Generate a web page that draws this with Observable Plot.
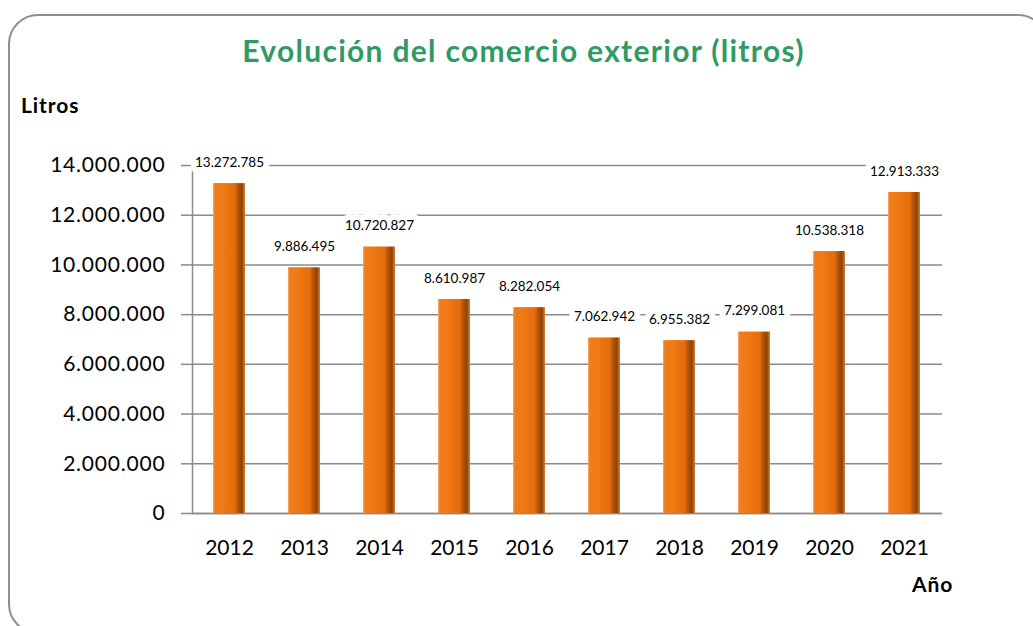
<!DOCTYPE html>
<html>
<head>
<meta charset="utf-8">
<script src="https://cdn.jsdelivr.net/npm/d3@7"></script>
<script src="https://cdn.jsdelivr.net/npm/@observablehq/plot@0.6"></script>
<style>
  html, body { margin: 0; padding: 0; background: #fff; }
  #wrap { position: relative; width: 1033px; height: 626px; overflow: hidden; font-family: Lato, "Open Sans", sans-serif; }
  #border { position: absolute; left: 8px; top: 14px; width: 1040px; height: 620px; border: 2px solid #8f8f8f; border-radius: 30px; box-sizing: border-box; }
  #title { position: absolute; left: 0; width: 1033px; top: 32px; text-align: center; font-size: 30px; line-height: 36px; font-weight: 700; color: #2f9a63; letter-spacing: 1.3px; padding-left: 14px; box-sizing: border-box; }
  #ylab { position: absolute; left: 21px; top: 92px; font-size: 21px; line-height: 25px; font-weight: 700; color: #000; letter-spacing: 0.9px; }
  #xlab { position: absolute; left: 912px; top: 571px; font-size: 21px; line-height: 25px; font-weight: 700; color: #000; letter-spacing: 0.9px; }
  #chart { position: absolute; left: 0; top: 0; }
  #chart svg g[aria-label="y-axis tick label"] text { letter-spacing: 0.8px; }
</style>
</head>
<body>
<div id="wrap">
  <div id="border"></div>
  <div id="chart"></div>
  <div id="title">Evolución del comercio exterior (litros)</div>
  <div id="ylab">Litros</div>
  <div id="xlab">Año</div>
</div>
<script>
const years = ["2012","2013","2014","2015","2016","2017","2018","2019","2020","2021"];
const litros = [13272785, 9886495, 10720827, 8610987, 8282054, 7062942, 6955382, 7299081, 10538318, 12913333];
const yTicks = [0, 2000000, 4000000, 6000000, 8000000, 10000000, 12000000, 14000000];

const data = years.map((y, i) => ({year: y, value: litros[i]}));
const es = d3.formatLocale({decimal: ",", thousands: ".", grouping: [3], currency: ["", ""]});
const fmt = es.format(",");

const gridColor = "#8a8a8a";

const plot = Plot.plot({
  width: 1033,
  height: 626,
  marginTop: 165,
  marginBottom: 113,
  marginLeft: 192,
  marginRight: 91,
  style: {fontFamily: "Lato, 'Open Sans', sans-serif", fontSize: "21px", color: "#000", background: "transparent"},
  x: {type: "band", domain: years, paddingInner: 0.57, paddingOuter: 0.285, label: null},
  y: {domain: [0, 14000000], label: null},
  marks: [
    Plot.gridY(yTicks, {stroke: gridColor, strokeOpacity: 1, strokeWidth: 1.5}),
    Plot.axisY(yTicks, {tickSize: 11, tickPadding: 16, stroke: gridColor, strokeWidth: 1.5, tickFormat: fmt, fontSize: 21, label: null}),
    Plot.axisX({tickSize: 0, tickPadding: 27, fontSize: 21, label: null}),
    Plot.frame({anchor: "left", stroke: gridColor, strokeWidth: 1.5}),
    Plot.ruleY([0], {stroke: gridColor, strokeWidth: 1.5}),
    Plot.barY(data, {x: "year", y: "value", fill: "url(#barGrad)"}),
    Plot.tickY(data, {x: "year", y: "value", stroke: "url(#capGrad)", strokeWidth: 6, dy: 4, insetLeft: 4, insetRight: 5}),
    Plot.text(data, {x: "year", y: "value", text: d => fmt(d.value), dy: -21, fontSize: 13.5, fill: "#000", stroke: "white", strokeWidth: 12, strokeLinejoin: "round"})
  ]
});

const svg = d3.select(plot);
const defs = svg.insert("defs", ":first-child");
const g = defs.append("linearGradient").attr("id", "barGrad").attr("x1", "0").attr("x2", "1").attr("y1", "0").attr("y2", "0");
[["0%", "#f4a86a"], ["6%", "#ef7c1c"], ["30%", "#f07a14"], ["68%", "#e46c0c"], ["78%", "#b85508"], ["90%", "#8c4206"], ["100%", "#d9803a"]]
  .forEach(([o, c]) => g.append("stop").attr("offset", o).attr("stop-color", c));
const cg = defs.append("linearGradient").attr("id", "capGrad").attr("x1", "0").attr("x2", "1").attr("y1", "0").attr("y2", "0");
[["0%", "#f28a30"], ["30%", "#fbb060"], ["60%", "#fbb060"], ["100%", "#e57a20"]]
  .forEach(([o, c]) => cg.append("stop").attr("offset", o).attr("stop-color", c));

document.getElementById("chart").appendChild(plot);
</script>
</body>
</html>
